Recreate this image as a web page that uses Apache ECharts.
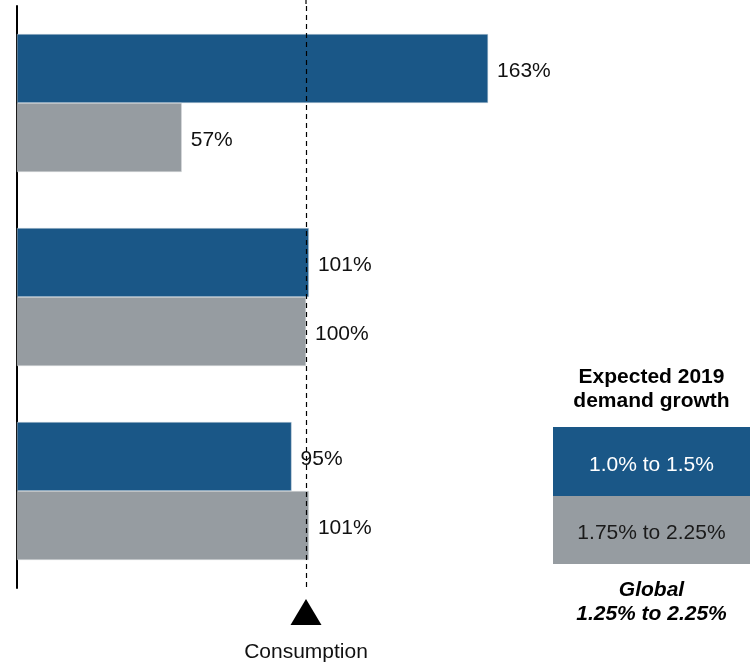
<!DOCTYPE html>
<html><head><meta charset="utf-8">
<script src="https://cdn.jsdelivr.net/npm/echarts@6/dist/echarts.min.js"></script>
<style>html,body{margin:0;padding:0;background:#fff}#c{width:750px;height:662px}</style>
</head><body><div id="c"></div>
<script>
const categories = ['Group A', 'Group B', 'Group C'];
const blueValues = [163, 101, 95];
const grayValues = [57, 100, 101];
const referenceValue = 100;
const legendTitle = ['Expected 2019', 'demand growth'];
const legendItems = ['1.0% to 1.5%', '1.75% to 2.25%'];
const globalText = ['Global', '1.25% to 2.25%'];
const markerText = 'Consumption';

const BLUE = '#1a5787', GRAY = '#969ca1';
const FONT = 'Liberation Sans, Arial, sans-serif';
const chart = echarts.init(document.getElementById('c'));
const labelCfg = {show: true, position: 'right', distance: 9, offset: [0, 3], fontSize: 21, fontFamily: FONT, color: '#111', formatter: p => p.value + '%'};
chart.setOption({
  animation: false,
  grid: {left: 17, top: 6, bottom: 74, right: 155},
  xAxis: {type: 'value', min: 0, max: 200, show: false},
  yAxis: {type: 'category', data: categories, inverse: true,
    axisLine: {lineStyle: {color: '#000', width: 2}}, axisTick: {show: false}, axisLabel: {show: false}},
  series: [
    {type: 'bar', data: blueValues, barGap: '0%', barCategoryGap: '28.9%',
     itemStyle: {color: BLUE, borderColor: '#cfd8e0', borderWidth: 0.5}, label: labelCfg,
     markLine: {silent: true, symbol: ['none', 'none'], label: {show: false},
       lineStyle: {color: '#000', type: [5, 4], width: 1.2}, data: [{xAxis: referenceValue}]}},
    {type: 'bar', data: grayValues, barGap: '0%', barCategoryGap: '28.9%',
     itemStyle: {color: GRAY, borderColor: '#d8dcdf', borderWidth: 0.5}, label: labelCfg}
  ]
});
const rx = chart.convertToPixel({xAxisIndex: 0}, referenceValue);
const cx = 651.5;
chart.setOption({graphic: [
  {type: 'line', shape: {x1: rx, y1: 0, x2: rx, y2: 4}, style: {stroke: '#000', lineWidth: 1.2}},
  {type: 'polygon', shape: {points: [[rx, 599], [rx - 15.5, 625], [rx + 15.5, 625]]}, style: {fill: '#000'}},
  {type: 'text', x: rx, y: 652, style: {text: markerText, font: '21px ' + FONT, fill: '#111', align: 'center', verticalAlign: 'middle'}},
  {type: 'text', x: cx, y: 377, style: {text: legendTitle[0], font: 'bold 21px ' + FONT, fill: '#000', align: 'center', verticalAlign: 'middle'}},
  {type: 'text', x: cx, y: 401, style: {text: legendTitle[1], font: 'bold 21px ' + FONT, fill: '#000', align: 'center', verticalAlign: 'middle'}},
  {type: 'rect', shape: {x: 553, y: 427, width: 197, height: 69}, style: {fill: BLUE}},
  {type: 'rect', shape: {x: 553, y: 496, width: 197, height: 68}, style: {fill: GRAY}},
  {type: 'text', x: cx, y: 465, style: {text: legendItems[0], font: '21px ' + FONT, fill: '#fff', align: 'center', verticalAlign: 'middle'}},
  {type: 'text', x: cx, y: 533, style: {text: legendItems[1], font: '21px ' + FONT, fill: '#1a1a1a', align: 'center', verticalAlign: 'middle'}},
  {type: 'text', x: cx, y: 590, style: {text: globalText[0], font: 'italic bold 21px ' + FONT, fill: '#000', align: 'center', verticalAlign: 'middle'}},
  {type: 'text', x: cx, y: 614, style: {text: globalText[1], font: 'italic bold 21px ' + FONT, fill: '#000', align: 'center', verticalAlign: 'middle'}}
]});
</script></body></html>
